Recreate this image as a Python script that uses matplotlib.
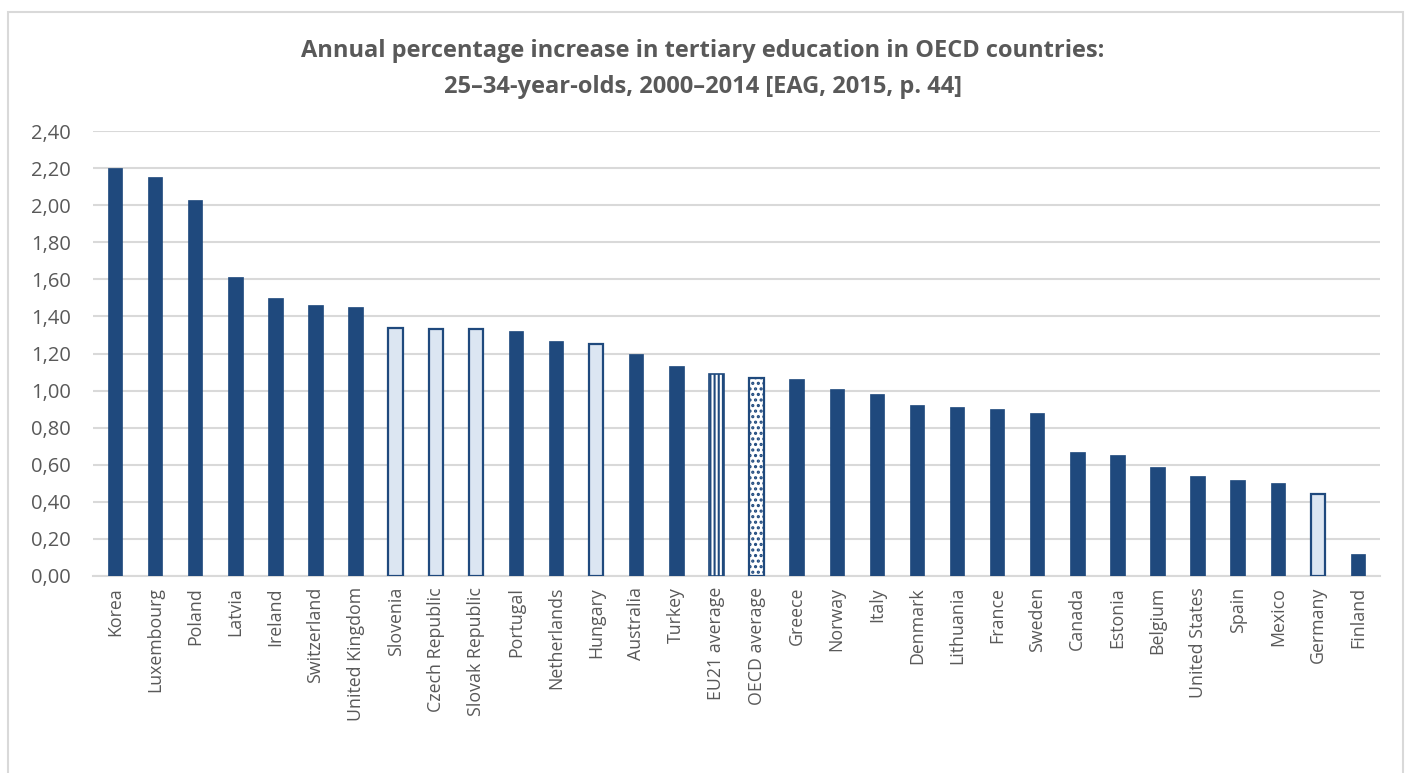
import matplotlib
matplotlib.use("Agg")
import matplotlib.pyplot as plt
from matplotlib.patches import Rectangle
from matplotlib.ticker import FuncFormatter

countries = [
    "Korea", "Luxembourg", "Poland", "Latvia", "Ireland", "Switzerland",
    "United Kingdom", "Slovenia", "Czech Republic", "Slovak Republic",
    "Portugal", "Netherlands", "Hungary", "Australia", "Turkey",
    "EU21 average", "OECD average", "Greece", "Norway", "Italy", "Denmark",
    "Lithuania", "France", "Sweden", "Canada", "Estonia", "Belgium",
    "United States", "Spain", "Mexico", "Germany", "Finland",
]
values = [
    2.20, 2.15, 2.03, 1.61, 1.50, 1.46, 1.45, 1.34, 1.33, 1.33,
    1.32, 1.27, 1.25, 1.20, 1.13, 1.09, 1.07, 1.06, 1.01, 0.98, 0.92,
    0.91, 0.90, 0.88, 0.67, 0.65, 0.59, 0.54, 0.52, 0.50, 0.44, 0.12,
]
# bar style per category: "solid", "light", "lines", "dots"
styles = [
    "solid", "solid", "solid", "solid", "solid", "solid", "solid",
    "light", "light", "light", "solid", "solid", "light", "solid", "solid",
    "lines", "dots", "solid", "solid", "solid", "solid", "solid", "solid",
    "solid", "solid", "solid", "solid", "solid", "solid", "solid",
    "light", "solid",
]
yticks = [0.0, 0.2, 0.4, 0.6, 0.8, 1.0, 1.2, 1.4, 1.6, 1.8, 2.0, 2.2, 2.4]

NAVY = "#1f497d"
LIGHT = "#dce6f2"
TEXT = "#595959"
GRID = "#d9d9d9"

plt.rcParams["font.family"] = ["Open Sans", "DejaVu Sans"]
plt.rcParams["hatch.linewidth"] = 1.5

fig = plt.figure(figsize=(14.06, 7.73), dpi=100)
fig.patch.set_facecolor("white")

# chart border
fig.add_artist(Rectangle((8 / 1406, -0.01), 1395 / 1406, 1 - 12 / 773 + 0.01,
                         transform=fig.transFigure, fill=False,
                         edgecolor="#d9d9d9", linewidth=1.5))

ax = fig.add_axes([93 / 1406, 1 - 576 / 773, (1380 - 93) / 1406, (576 - 131) / 773])
x = list(range(len(countries)))
w = 0.36
for xi, v, s in zip(x, values, styles):
    if s == "solid":
        ax.bar(xi, v, width=w, color=NAVY, edgecolor=NAVY, linewidth=0.5, zorder=3)
    elif s == "light":
        ax.bar(xi, v, width=w, color=LIGHT, edgecolor=NAVY, linewidth=1.6, zorder=3)
    elif s == "lines":
        ax.bar(xi, v, width=w, color="white", edgecolor=NAVY, linewidth=0,
               hatch="||||", zorder=3)
        ax.bar(xi, v, width=w, fill=False, edgecolor=NAVY, linewidth=1.2, zorder=4)
    else:
        ax.bar(xi, v, width=w, color="white", edgecolor=NAVY, linewidth=0,
               hatch="...", zorder=3)
        ax.bar(xi, v, width=w, fill=False, edgecolor=NAVY, linewidth=1.6, zorder=4)

ax.set_xlim(-0.55, len(countries) - 0.45)
ax.set_ylim(0, 2.4)
ax.set_yticks(yticks)
ax.yaxis.set_major_formatter(FuncFormatter(lambda v, p: f"{v:.2f}".replace(".", ",")))
ax.set_xticks(x)
ax.set_xticklabels(countries, rotation=90)
ax.tick_params(axis="both", length=0, colors=TEXT)
ax.tick_params(axis="y", pad=16, labelsize=14.5)
ax.tick_params(axis="x", pad=8, labelsize=12.8)
ax.grid(axis="y", color=GRID, linewidth=1.5, zorder=0)
for side in ["top", "right", "left"]:
    ax.spines[side].set_visible(False)
ax.spines["bottom"].set_color(GRID)
ax.spines["bottom"].set_linewidth(1.5)

fig.text(0.5, 1 - 51 / 773,
         "Annual percentage increase in tertiary education in OECD countries:",
         ha="center", va="center", fontsize=17, fontweight="bold", color=TEXT)
fig.text(0.5, 1 - 87 / 773,
         "25\u201334-year-olds, 2000\u20132014 [EAG, 2015, p. 44]",
         ha="center", va="center", fontsize=17, fontweight="bold", color=TEXT)

fig.savefig("out.png", dpi=100, facecolor="white")
